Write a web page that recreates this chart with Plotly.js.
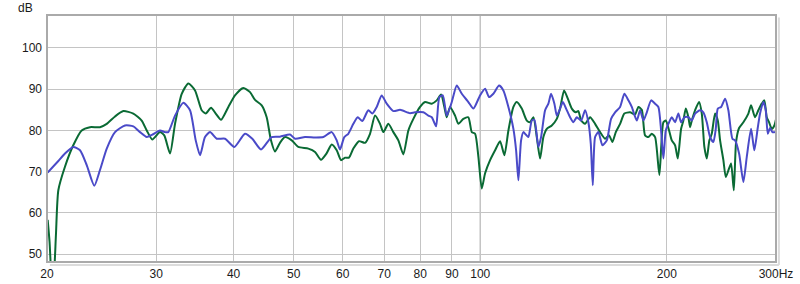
<!DOCTYPE html>
<html>
<head>
<meta charset="utf-8">
<script src="https://cdn.plot.ly/plotly-3.0.1.min.js"></script>
<style>html,body{margin:0;padding:0;background:#fff;}#chart{width:800px;height:284px;}</style>
</head>
<body>
<div id="chart"></div>
<script>
// Green series (Hz, dB)
const greenHz = [20.05,20.19,20.30,20.41,20.53,20.68,20.86,21.38,22.05,22.75,23.46,24.35,24.97,25.75,26.56,27.56,28.43,28.97,29.58,30.43,30.92,31.59,32.18,32.99,33.81,34.66,35.53,36.07,36.79,37.43,38.18,39.23,40.21,41.47,42.52,43.31,44.40,45.23,45.96,46.65,47.52,48.42,49.64,50.87,52.80,54.13,55.34,56.53,57.59,58.67,59.61,60.51,61.41,62.41,63.74,65.18,66.40,67.65,68.91,69.77,71.07,72.41,73.77,75.15,76.56,78.00,79.96,81.46,83.52,85.08,86.45,87.52,88.30,89.39,91.07,92.19,93.92,95.68,96.90,98.10,99.31,100.56,101.81,103.72,105.67,107.64,109.38,111.02,113.10,114.54,116.68,118.87,120.34,121.83,123.37,124.89,126.43,128.04,130.44,132.89,134.52,136.54,138.43,140.50,142.60,143.98,145.44,147.61,150.38,153.20,156.08,159.00,161.38,163.38,165.45,168.11,170.81,174.47,177.74,179.94,182.22,184.46,186.74,189.11,191.45,194.53,197.44,199.21,201.67,203.70,206.22,208.29,210.87,212.67,214.58,216.66,218.03,219.41,222.12,225.43,227.71,229.91,231.97,234.23,236.32,239.25,241.66,243.74,246.73,248.94,251.36,253.89,256.46,258.65,261.56,265.76,270.74,273.46,277.52,280.96,284.53,287.28,289.87,292.35,295.29,298.17,300.8];
const greenDb = [58.3,53,46,42,45,55,65.5,71.2,76.4,80,80.8,80.8,81.6,83.4,84.7,84.1,82.4,80,77.8,79.6,78.8,74.4,81.6,88.9,91.4,89.7,84.9,84.1,85.5,84.1,82.6,85.7,88.5,90.3,89.3,87.4,86.1,83.2,77.6,74.9,77,78.4,77.6,76,75.6,74.8,72.9,74.5,76.6,75.2,72.8,73.4,73.4,75.6,77.4,77,79.2,83.6,81.6,79.6,81.6,79.6,77.6,74.2,80,82.8,85.7,86.9,86.5,87.3,88.7,85.7,83.2,85.7,83.6,81.6,82.8,83.2,79.6,79.2,73.6,65.9,69.6,72.8,75.2,77.4,74,80,85.7,86.9,85.3,82.4,82,83.2,78.4,73.2,78.4,80.4,81.2,82.8,85.3,89.7,87.7,85.3,84.4,84.7,82.4,81.6,83.2,81.6,79.6,78,78.8,77.2,79.6,81.6,84.1,84.4,83.9,85.7,85,78.8,78.4,79.2,78.4,69.2,82,82.4,80,77.6,76.4,73.2,80.4,82.4,85.3,83.2,80.8,82.4,84.9,86.9,84.1,76,73.2,77.6,79.2,84.1,82.4,77.6,72.8,68.7,70.3,72,65.5,77.2,80.6,82,84.1,86.1,83.2,84.9,86.5,87.3,83.2,82,80.4,81.2,83.6];

// Blue series (Hz, dB)
const blueHz = [20.05,20.86,21.38,22.05,22.61,23.18,23.84,24.35,24.97,25.75,26.72,27.56,28.25,28.97,29.58,30.43,31.00,31.38,32.18,33.19,34.02,34.75,35.31,35.97,36.65,37.57,38.75,40.10,41.73,42.88,44.29,46.08,47.52,49.33,50.25,52.16,54.13,55.82,57.59,58.67,59.39,60.35,61.25,62.41,63.43,64.53,65.98,66.97,68.07,69.34,70.64,72.41,74.24,77.05,78.49,80.94,82.46,83.52,84.86,85.91,87.01,88.30,89.96,91.65,93.37,95.68,97.48,99.93,101.81,103.33,104.99,107.24,108.97,111.02,113.10,114.24,115.22,116.38,117.38,118.43,119.58,121.10,122.28,124.11,125.36,127.23,128.80,130.10,131.71,132.89,134.52,135.88,137.55,139.61,141.34,143.13,145.44,147.61,149.43,150.77,151.89,153.20,155.09,157.42,160.01,162.58,165.02,168.11,170.81,173.38,175.57,178.87,181.08,183.32,185.66,188.64,191.45,193.80,195.77,197.44,199.21,201.13,203.70,206.22,208.74,210.87,213.47,216.66,219.41,222.12,226.26,229.04,231.97,234.82,237.73,239.86,241.66,244.65,248.30,251.36,255.13,257.69,261.56,265.76,269.14,273.46,276.80,280.32,282.74,286.22,288.80,290.97,293.45,295.98,299.7];
const blueDb = [69.8,72.6,74.4,76,75.2,71.6,66.6,70.4,75.6,79.6,81.2,81,79.6,78.4,79,80,79.6,79.6,83.6,86.7,84.9,77.6,74,78.4,79.6,78,78,76,79.2,78,75.4,78.4,78.5,79,78,78.4,78.3,78.4,79.6,77.6,75.4,78.4,79.2,81.6,83.2,82.3,84.9,84.1,85.7,88.5,86.5,84.7,85,84.2,84.4,84.4,83.6,83.2,81,88.1,88.5,83.6,86.9,90.9,88.9,86.9,85.3,88.5,90.1,88.1,88.9,90.9,89.7,85.7,80.4,75.2,67.9,77.6,79.6,79,78.4,82.4,82.6,76,78.4,84.9,86.5,88.9,86.5,83.6,85.3,86.9,85.3,83.2,82,83.2,82.4,84.9,82,76.8,66.7,78.4,79.6,76.4,77.6,82.8,84.4,85.7,88.9,87.3,85.7,82.4,84.9,82.4,84.4,87.3,86.5,85.7,80,73.2,80,81.6,83.2,82,84.1,82,83.2,83.2,82.4,84.1,84.9,84.4,82,78.4,77.2,80.4,85.3,85.7,87.7,84.9,78,77.6,74.4,67.5,73.6,80.4,75.2,80.6,84.1,86.9,84.9,79.2,80.6,79.6,79.6];

const xTickVals = [20,30,40,50,60,70,80,90,100,200,300];
const xTickText = ['20','30','40','50','60','70','80','90','100','200','300Hz'];
const yTickVals = [50,60,70,80,90,100];

const traces = [
  {x: greenHz, y: greenDb, type:'scatter', mode:'lines', line:{color:'#0a6a34', width:2, shape:'spline', smoothing:0.6}, hoverinfo:'skip'},
  {x: blueHz, y: blueDb, type:'scatter', mode:'lines', line:{color:'#4a4ac8', width:2, shape:'spline', smoothing:0.6}, hoverinfo:'skip'}
];

const layout = {
  width:800, height:284,
  margin:{l:47, r:24, t:15, b:22, pad:0},
  paper_bgcolor:'#ffffff', plot_bgcolor:'#ffffff',
  showlegend:false,
  font:{family:'Liberation Sans, Arial, sans-serif', size:12, color:'#1a1a1a'},
  xaxis:{type:'log', range:[Math.log10(20), Math.log10(300)], tickvals:xTickVals, ticktext:xTickText,
         showgrid:true, gridcolor:'#c4c4c4', gridwidth:1, zeroline:false, showline:false, ticks:'', ticklabelstandoff:3},
  yaxis:{range:[48.1,108], tickvals:yTickVals, showgrid:true, gridcolor:'#c4c4c4', gridwidth:1, zeroline:false, showline:false, ticks:'', ticklabelstandoff:4},
  shapes:[
    {type:'line', xref:'x', yref:'paper', x0:100, x1:100, y0:0, y1:1, line:{color:'#808080', width:1}, layer:'below'},
    {type:'line', xref:'paper', yref:'paper', x0:1.004, x1:1.004, y0:-0.012, y1:0.99, line:{color:'#dcdcdc', width:2}},
    {type:'line', xref:'paper', yref:'paper', x0:0.004, x1:1.004, y0:-0.012, y1:-0.012, line:{color:'#dcdcdc', width:2}},
    {type:'rect', xref:'paper', yref:'paper', x0:0, x1:1, y0:0, y1:1, line:{color:'#aaaaaa', width:2}}
  ],
  annotations:[
    {text:'dB', xref:'paper', yref:'paper', x:-0.016, y:1.0, xanchor:'right', yanchor:'bottom', showarrow:false, font:{size:12, color:'#1a1a1a'}, yshift:-2}
  ]
};

Plotly.newPlot('chart', traces, layout, {staticPlot:true, displayModeBar:false});
</script>
</body>
</html>
